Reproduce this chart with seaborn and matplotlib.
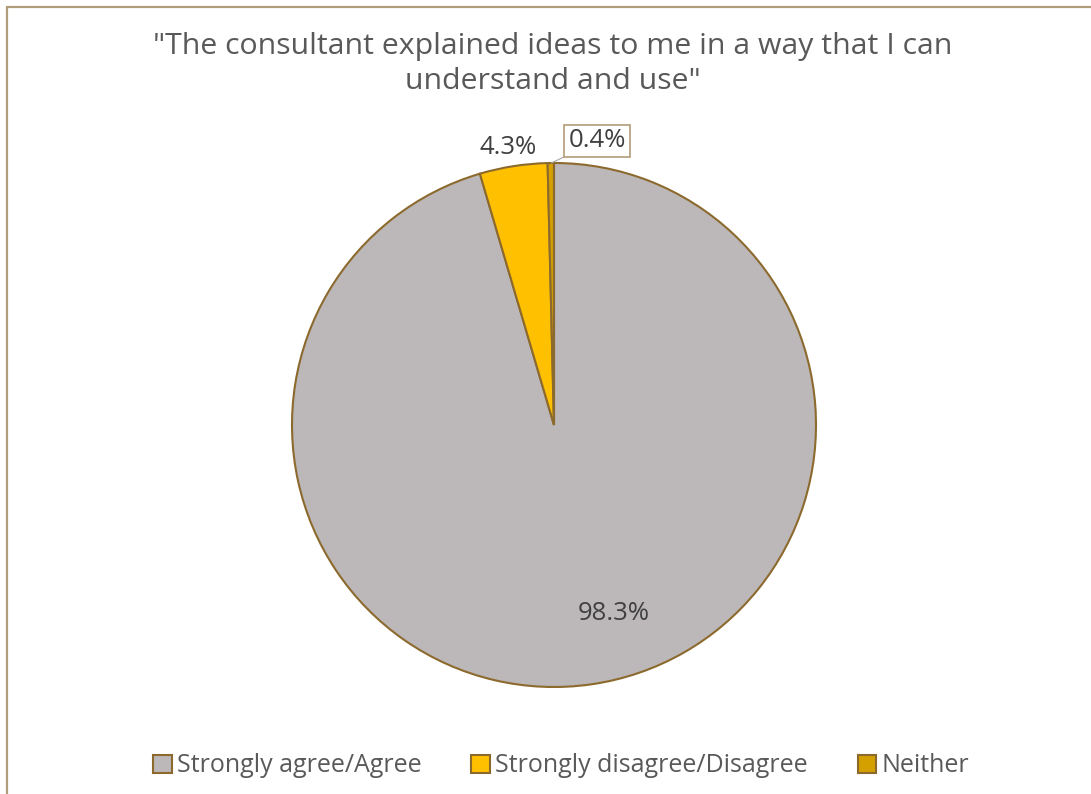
import matplotlib
matplotlib.use("Agg")
import matplotlib.pyplot as plt
import seaborn as sns
from matplotlib.lines import Line2D
from matplotlib.patches import Patch

categories = ["Strongly agree/Agree", "Strongly disagree/Disagree", "Neither"]
values = [98.3, 4.3, 0.4]
labels = ["98.3%", "4.3%", "0.4%"]
title = "\"The consultant explained ideas to me in a way that I can\nunderstand and use\""

colors = ["#BCB7B8", "#FFC000", "#D4A000"]
edge = "#8C6A2E"
text_col = "#404040"

sns.set_theme(style="white")
plt.rcParams['font.family'] = ['Open Sans', 'DejaVu Sans']

fig = plt.figure(figsize=(10.91, 7.94), dpi=100)
fig.patch.set_facecolor("white")

# frame lines (top and left)
fig.add_artist(Line2D([0.0065, 1.0], [1 - 6.5/794, 1 - 6.5/794], color="#B09C78", lw=1.6, transform=fig.transFigure))
fig.add_artist(Line2D([0.0065, 0.0065], [0.0, 1 - 6.5/794], color="#B09C78", lw=1.6, transform=fig.transFigure))

ax = fig.add_axes([(554 - 262) / 1091, (794 - 425 - 262) / 794, 524 / 1091, 524 / 794])
wedges, _ = ax.pie(values, colors=colors, startangle=90, counterclock=False,
                   wedgeprops=dict(edgecolor=edge, linewidth=1.5))
ax.set_xlim(-1, 1)
ax.set_ylim(-1, 1)
ax.axis("off")

ax.text(0.229, -0.718, labels[0], ha="center", va="center", fontsize=18.5, color=text_col)
ax.text(-0.176, 1.061, labels[1], ha="center", va="center", fontsize=18.5, color=text_col)
ax.annotate(labels[2], xy=(-0.01, 1.0), xytext=(0.164, 1.084), ha="center", va="center",
            fontsize=18.5, color=text_col,
            bbox=dict(boxstyle="square,pad=0.15", fc="white", ec="#B09C78", lw=1.2),
            arrowprops=dict(arrowstyle="-", color="#A6A6A6", lw=0.8, shrinkA=0, shrinkB=0),
            annotation_clip=False)

fig.text(553 / 1091, 1 - 64 / 794, title, ha="center", va="center", fontsize=21.8,
         color="#595959", linespacing=1.25)

handles = [Patch(facecolor=c, edgecolor=edge, linewidth=1.5) for c in colors]
fig.legend(handles, categories, loc="center", bbox_to_anchor=(561 / 1091, 1 - 766 / 794),
           ncol=3, frameon=False, fontsize=18, labelcolor="#595959",
           handlelength=0.75, handleheight=0.75, handletextpad=0.2, columnspacing=2.0)

fig.savefig("out.png", dpi=100)
